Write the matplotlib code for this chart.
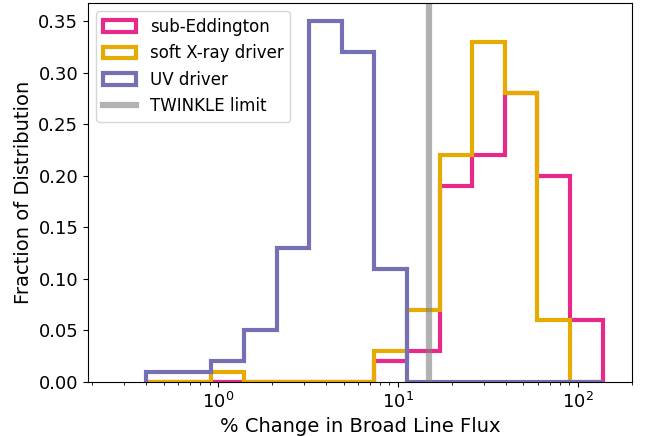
import numpy as np
import matplotlib
matplotlib.use("Agg")
import matplotlib.pyplot as plt


# log-spaced bin edges (% change in broad line flux)
bin_edges = [0.40, 0.61, 0.92, 1.40, 2.12, 3.22, 4.89, 7.43, 11.3, 17.1, 26.0, 39.4, 59.8, 90.8, 138]

# fraction of objects in each bin
sub_eddington = [0, 0, 0, 0, 0, 0, 0, 0.02, 0.03, 0.19, 0.22, 0.28, 0.20, 0.06]
soft_xray = [0, 0, 0.01, 0, 0, 0, 0, 0.03, 0.07, 0.22, 0.33, 0.28, 0.06, 0]
uv_driver = [0.01, 0.01, 0.02, 0.05, 0.13, 0.35, 0.32, 0.11, 0, 0, 0, 0, 0, 0]

twinkle_limit = 15

edges = np.array(bin_edges)
centers = np.sqrt(edges[:-1] * edges[1:])

fig = plt.figure(figsize=(6.52, 4.36), dpi=100)
ax = fig.add_subplot(111)
fig.subplots_adjust(left=0.135, right=0.969, top=0.993, bottom=0.124)

ax.hist(centers, bins=edges, weights=sub_eddington, histtype='step', lw=3,
        color='#e7298a', label='sub-Eddington')
ax.hist(centers, bins=edges, weights=soft_xray, histtype='step', lw=3,
        color='#e6ab02', label='soft X-ray driver')
ax.hist(centers, bins=edges, weights=uv_driver, histtype='step', lw=3,
        color='#7570b3', label='UV driver')
ax.axvline(twinkle_limit, color='gray', alpha=0.6, lw=4.5, label='TWINKLE limit')

ax.set_xscale('log')
ax.set_xlim(0.19, 200)
ax.set_xlabel('% Change in Broad Line Flux', fontsize=14)
ax.set_ylabel('Fraction of Distribution', fontsize=14)
ax.tick_params(axis='both', labelsize=13)
ax.legend(loc='upper left', fontsize=12)

fig.savefig('out.png', dpi=100)
